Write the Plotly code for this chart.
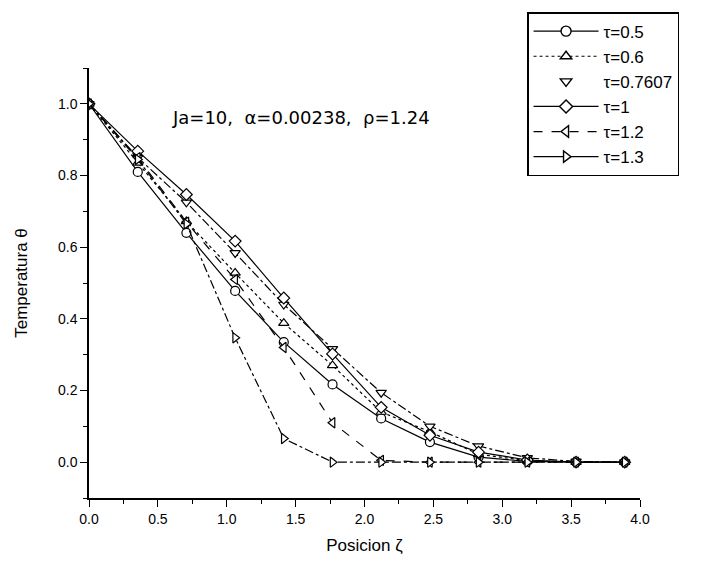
import plotly.graph_objects as go

# Data
zeta = [0, 0.354, 0.707, 1.061, 1.414, 1.768, 2.121, 2.475, 2.828, 3.182, 3.536, 3.889]
tau_05 = [1.0, 0.81, 0.64, 0.478, 0.335, 0.217, 0.122, 0.056, 0.014, 0.002, 0.0, 0.0]
tau_06 = [1.0, 0.835, 0.672, 0.528, 0.388, 0.27, 0.14, 0.085, 0.022, 0.004, 0.0, 0.0]
tau_07607 = [1.0, 0.85, 0.725, 0.584, 0.44, 0.316, 0.194, 0.10, 0.045, 0.012, 0.002, 0.0]
tau_1 = [1.0, 0.868, 0.747, 0.617, 0.458, 0.302, 0.153, 0.075, 0.028, 0.006, 0.0, 0.0]
tau_12 = [1.0, 0.85, 0.67, 0.51, 0.32, 0.11, 0.005, 0.0, 0.0, 0.0, 0.0, 0.0]
tau_13 = [1.0, 0.845, 0.665, 0.347, 0.066, 0.0, 0.0, 0.0, 0.0, 0.0, 0.0, 0.0]

labels = ["τ=0.5", "τ=0.6", "τ=0.7607", "τ=1", "τ=1.2", "τ=1.3"]
series = [tau_05, tau_06, tau_07607, tau_1, tau_12, tau_13]
symbols = ["circle", "triangle-up", "triangle-down", "diamond", "triangle-left", "triangle-right"]
plot_dash = ["solid", "dot", "dashdot", "solid", "dash", "dashdot"]
legend_dash = ["solid", "dot", None, "solid", "dash", "solid"]

FONT = "Liberation Sans, Arial"

fig = go.Figure()
for lab, ys, sym, dsh in zip(labels, series, symbols, plot_dash):
    fig.add_trace(go.Scatter(
        x=zeta, y=ys, mode="lines+markers", name=lab, showlegend=False,
        line=dict(color="black", width=1.2, dash=dsh),
        marker=dict(symbol=sym, size=9, color="white", line=dict(color="black", width=1.2)),
    ))
# legend entries as drawn in the reference
for i, (lab, sym, dsh) in enumerate(zip(labels, symbols, legend_dash)):
    fig.add_trace(go.Scatter(
        x=[None], y=[None], name=lab, legendgroup=f"g{i}",
        mode="markers" if dsh is None else "lines+markers",
        line=dict(color="black", width=1.2, dash=dsh or "solid"),
        marker=dict(symbol=sym, size=10, color="white", line=dict(color="black", width=1.4)),
    ))

fig.add_annotation(
    x=0.385, y=0.914, xref="paper", yref="paper", showarrow=False,
    text="Ja=10,  α=0.00238,  ρ=1.24",
    font=dict(family="DejaVu Sans", size=18, color="black"),
)

axis_common = dict(
    showgrid=False, zeroline=False, showline=True, linecolor="black", linewidth=1.5,
    ticks="outside", tickcolor="black", ticklen=7, tickwidth=1.3,
    tickfont=dict(family=FONT, size=14, color="black"),
    mirror=False,
)
fig.update_xaxes(
    range=[0, 4], dtick=0.5, tick0=0, tickformat=".1f",
    minor=dict(dtick=0.25, ticks="outside", ticklen=4, tickcolor="black"),
    title=dict(text="Posicion ζ", font=dict(family=FONT, size=17, color="black"), standoff=14),
    **axis_common,
)
fig.update_yaxes(
    range=[-0.1, 1.1], dtick=0.2, tick0=0, tickformat=".1f",
    minor=dict(dtick=0.1, ticks="outside", ticklen=4, tickcolor="black"),
    title=dict(text="Temperatura θ", font=dict(family=FONT, size=17, color="black"), standoff=26),
    **axis_common,
)

fig.update_layout(
    width=708, height=564,
    margin=dict(l=89, r=68, t=66, b=66),
    plot_bgcolor="white", paper_bgcolor="white",
    legend=dict(
        x=0.795, y=1.13, xanchor="left", yanchor="top",
        bordercolor="black", borderwidth=1.5, bgcolor="white",
        font=dict(family=FONT, size=17, color="black"),
        tracegroupgap=0, itemwidth=65,
    ),
)

fig.write_html("out.html")
